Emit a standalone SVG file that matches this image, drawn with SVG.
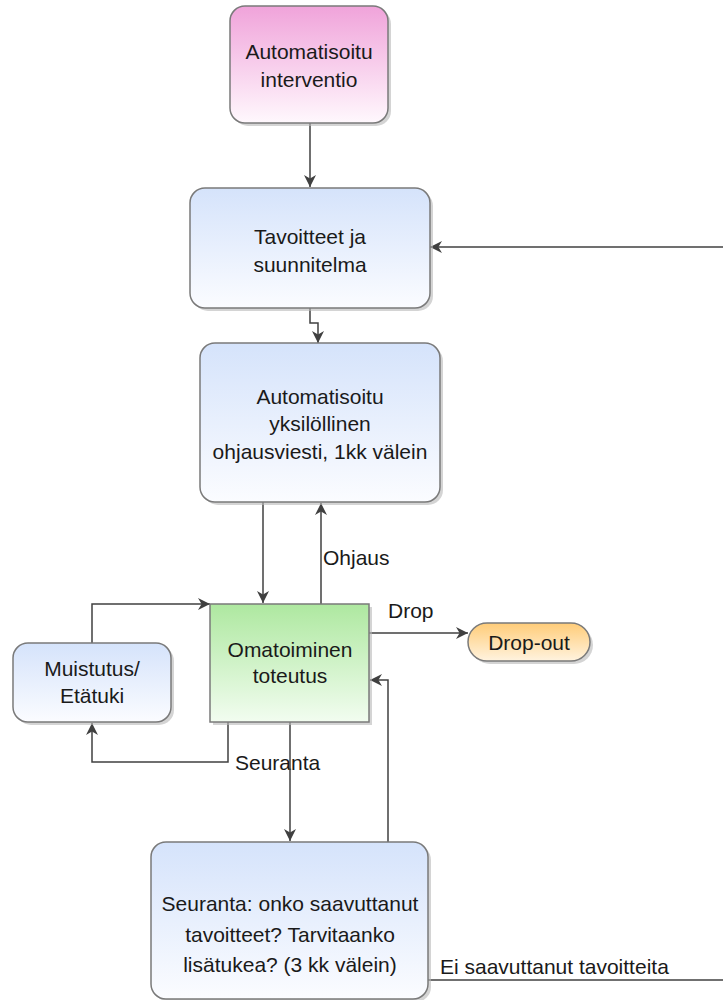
<svg xmlns="http://www.w3.org/2000/svg" width="723" height="1000" viewBox="0 0 723 1000">
<style>
.t{font-family:"Liberation Sans",Arial,sans-serif;font-size:21px;fill:#1a1a1a;text-anchor:middle}
.l{font-family:"Liberation Sans",Arial,sans-serif;font-size:21px;fill:#1a1a1a}
.b{stroke:#7a7a7a;stroke-width:1.5}
.sh{fill:#b8b8b8;opacity:0.6}
.c{fill:none;stroke:#404040;stroke-width:1.5}
</style>
<defs>
<linearGradient id="gPink" x1="0" y1="0" x2="0" y2="1"><stop offset="0" stop-color="#f0a3da"/><stop offset="1" stop-color="#fff8fd"/></linearGradient>
<linearGradient id="gBlue" x1="0" y1="0" x2="0" y2="1"><stop offset="0" stop-color="#d5e3fb"/><stop offset="1" stop-color="#fbfcff"/></linearGradient>
<linearGradient id="gGreen" x1="0" y1="0" x2="0" y2="1"><stop offset="0" stop-color="#aee8a0"/><stop offset="1" stop-color="#f2fdf0"/></linearGradient>
<linearGradient id="gOrange" x1="0" y1="0" x2="0" y2="1"><stop offset="0" stop-color="#ffcc78"/><stop offset="1" stop-color="#fff3df"/></linearGradient>
<marker id="arr" viewBox="0 0 10 10" refX="10" refY="5" markerWidth="12" markerHeight="12" markerUnits="userSpaceOnUse" orient="auto"><path d="M0,0 L10,5 L0,10 L3,5 z" fill="#404040"/></marker>
</defs>

<g id="connectors">
<path class="c" d="M310,123 V187" marker-end="url(#arr)"/>
<path class="c" d="M723,247 H430" marker-end="url(#arr)"/>
<path class="c" d="M310,308 V323 H318 V343" marker-end="url(#arr)"/>
<path class="c" d="M263,502 V603" marker-end="url(#arr)"/>
<path class="c" d="M321,604 V503" marker-end="url(#arr)"/>
<text class="l" x="323" y="565">Ohjaus</text>
<path class="c" d="M92,643 V604 H210" marker-end="url(#arr)"/>
<path class="c" d="M228,722 V762 H92 V723" marker-end="url(#arr)"/>
<text class="l" x="235" y="770">Seuranta</text>
<path class="c" d="M369,633 H468" marker-end="url(#arr)"/>
<text class="l" x="388" y="618">Drop</text>
<path class="c" d="M290,722 V841" marker-end="url(#arr)"/>
<path class="c" d="M388,842 V680 H370" marker-end="url(#arr)"/>
<path class="c" d="M428,980 H723"/>
<text class="l" x="440" y="974">Ei saavuttanut tavoitteita</text>
</g>

<g id="n1">
<rect class="sh" x="233" y="9" width="158" height="117" rx="15"/>
<rect class="b" x="230" y="6" width="158" height="117" rx="15" fill="url(#gPink)"/>
<text class="t" x="309" y="59">Automatisoitu</text>
<text class="t" x="309" y="87">interventio</text>
</g>

<g id="n2">
<rect class="sh" x="193" y="191" width="240" height="120" rx="15"/>
<rect class="b" x="190" y="188" width="240" height="120" rx="15" fill="url(#gBlue)"/>
<text class="t" x="310" y="244">Tavoitteet ja</text>
<text class="t" x="310" y="272">suunnitelma</text>
</g>

<g id="n3">
<rect class="sh" x="203" y="346" width="240" height="159" rx="15"/>
<rect class="b" x="200" y="343" width="240" height="159" rx="15" fill="url(#gBlue)"/>
<text class="t" x="320" y="404">Automatisoitu</text>
<text class="t" x="320" y="431">yksilöllinen</text>
<text class="t" x="320" y="459">ohjausviesti, 1kk välein</text>
</g>

<g id="n4">
<rect class="sh" x="213" y="607" width="159" height="118"/>
<rect class="b" x="210" y="604" width="159" height="118" fill="url(#gGreen)"/>
<text class="t" x="290" y="657">Omatoiminen</text>
<text class="t" x="290" y="683">toteutus</text>
</g>

<g id="n5">
<rect class="sh" x="16" y="646" width="158" height="79" rx="15"/>
<rect class="b" x="13" y="643" width="158" height="79" rx="15" fill="url(#gBlue)"/>
<text class="t" x="92" y="676">Muistutus/</text>
<text class="t" x="92" y="703">Etätuki</text>
</g>

<g id="n6">
<rect class="sh" x="471" y="626" width="122" height="38" rx="19"/>
<rect class="b" x="468" y="623" width="122" height="38" rx="19" fill="url(#gOrange)"/>
<text class="t" x="529" y="650">Drop-out</text>
</g>

<g id="n7">
<rect class="sh" x="154" y="845" width="277" height="157" rx="15"/>
<rect class="b" x="151" y="842" width="277" height="157" rx="15" fill="url(#gBlue)"/>
<text class="t" x="290" y="911">Seuranta: onko saavuttanut</text>
<text class="t" x="290" y="942">tavoitteet? Tarvitaanko</text>
<text class="t" x="290" y="972">lisätukea? (3 kk välein)</text>
</g>
</svg>
